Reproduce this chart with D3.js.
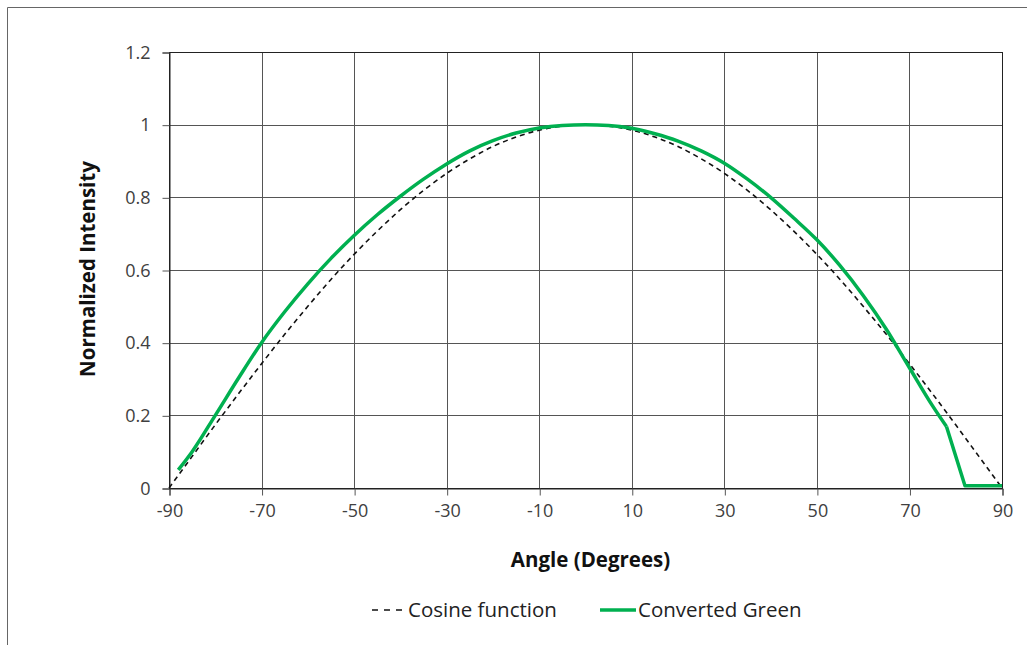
<!DOCTYPE html>
<html>
<head>
<meta charset="utf-8">
<script src="https://cdn.jsdelivr.net/npm/d3@7"></script>
<style>
  body { margin: 0; background: #fff; }
  text { font-family: "Open Sans", "Noto Sans", sans-serif; }
</style>
</head>
<body>
<div id="chart"></div>
<script>
// angles in degrees and normalized intensity
var cosAngles = [-90, -85, -80, -75, -70, -65, -60, -55, -50, -45, -40, -35, -30, -25, -20, -15, -10, -5,
    0, 5, 10, 15, 20, 25, 30, 35, 40, 45, 50, 55, 60, 65, 70, 75, 80, 85, 90];
var cosValues = [0, 0.087, 0.174, 0.259, 0.342, 0.423, 0.5, 0.574, 0.643, 0.707, 0.766, 0.819, 0.866, 0.906, 0.94, 0.966, 0.985, 0.996,
    1, 0.996, 0.985, 0.966, 0.94, 0.906, 0.866, 0.819, 0.766, 0.707, 0.643, 0.574, 0.5, 0.423, 0.342, 0.259, 0.174, 0.087, 0];

var greenAngles = [-88, -85, -80, -75, -70, -65, -60, -55, -50, -45, -40, -35, -30, -25, -20, -15, -10, -5,
    0, 5, 10, 15, 20, 25, 30, 35, 40, 45, 50, 55, 60, 65, 70, 75, 78, 82, 90];
var greenValues = [0.05, 0.10, 0.20, 0.302, 0.40, 0.485, 0.562, 0.632, 0.695, 0.752, 0.803, 0.85, 0.892, 0.928, 0.956, 0.977, 0.991, 0.998,
    1, 0.998, 0.99, 0.975, 0.955, 0.928, 0.894, 0.85, 0.80, 0.743, 0.683, 0.612, 0.53, 0.437, 0.331, 0.226, 0.169, 0.006, 0.006];

var xTicks = [-90, -70, -50, -30, -10, 10, 30, 50, 70, 90];
var yTicks = [0, 0.2, 0.4, 0.6, 0.8, 1, 1.2];
var yTickLabels = ['0', '0.2', '0.4', '0.6', '0.8', '1', '1.2'];

var W = 1027, H = 645;
var margin = { top: 52, right: 25, bottom: 157, left: 169 };
var width = W - margin.left - margin.right;
var height = H - margin.top - margin.bottom;

var root = d3.select('#chart')
    .append('svg')
    .attr('width', W)
    .attr('height', H);

// outer frame (only left and top edges are in view)
root.append('path')
    .attr('d', 'M7.5,' + H + 'V7.5H' + W)
    .attr('fill', 'none')
    .attr('stroke', '#666')
    .attr('stroke-width', 1);

var svg = root.append('g')
    .attr('transform', `translate(${margin.left},${margin.top})`);

var xScale = d3.scaleLinear().domain([-90, 90]).range([0, width]);
var yScale = d3.scaleLinear().domain([0, 1.2]).range([height, 0]);

// grid
svg.append('g')
    .selectAll('line')
    .data(xTicks)
    .join('line')
    .attr('x1', d => Math.round(xScale(d)) + 0.5)
    .attr('x2', d => Math.round(xScale(d)) + 0.5)
    .attr('y1', 0)
    .attr('y2', height)
    .attr('stroke', '#555');
svg.append('g')
    .selectAll('line')
    .data(yTicks)
    .join('line')
    .attr('x1', 0)
    .attr('x2', width)
    .attr('y1', d => Math.round(yScale(d)) + 0.5)
    .attr('y2', d => Math.round(yScale(d)) + 0.5)
    .attr('stroke', '#555');

// frame
svg.append('rect')
    .attr('x', 0.5)
    .attr('y', 0.5)
    .attr('width', width)
    .attr('height', height)
    .attr('fill', 'none')
    .attr('stroke', '#222');

// Add X axis
var xAxis = svg.append('g')
    .attr('transform', `translate(0.5, ${height + 0.5})`)
    .call(d3.axisBottom(xScale).tickValues(xTicks).tickFormat(d => String(d))
        .tickSizeOuter(0).tickSize(7).tickPadding(9));
xAxis.select('.domain').attr('stroke', '#222');
xAxis.selectAll('.tick line').attr('stroke', '#555');
xAxis.selectAll('text')
    .attr('font-size', '18px')
    .attr('fill', '#404040');

// Add Y axis
var yAxis = svg.append('g')
    .attr('transform', 'translate(0.5, 0.5)')
    .call(d3.axisLeft(yScale).tickValues(yTicks).tickFormat((d, i) => yTickLabels[i])
        .tickSizeOuter(0).tickSize(7).tickPadding(12));
yAxis.select('.domain').attr('stroke', '#222');
yAxis.selectAll('.tick line').attr('stroke', '#555');
yAxis.selectAll('text')
    .attr('font-size', '18px')
    .attr('fill', '#404040');

// axis titles
svg.append('text')
    .attr('x', width / 2 + 5)
    .attr('y', height + 79)
    .attr('text-anchor', 'middle')
    .attr('font-size', '20.5px')
    .attr('font-weight', 'bold')
    .attr('fill', '#111')
    .text('Angle (Degrees)');
svg.append('text')
    .attr('transform', `translate(${-74}, ${height / 2 - 1}) rotate(-90)`)
    .attr('text-anchor', 'middle')
    .attr('font-size', '20.5px')
    .attr('font-weight', 'bold')
    .attr('fill', '#111')
    .text('Normalized Intensity');

// lines
var cosData = cosAngles.map((a, i) => ({ x: a, y: cosValues[i] }));
var greenData = greenAngles.map((a, i) => ({ x: a, y: greenValues[i] }));

svg.append('path')
    .datum(cosData)
    .attr('fill', 'none')
    .attr('stroke', '#111')
    .attr('stroke-width', 1.6)
    .attr('stroke-dasharray', '5,4')
    .attr('d', d3.line()
        .curve(d3.curveMonotoneX)
        .x(d => xScale(d.x))
        .y(d => yScale(d.y)));

// smooth part of the measured curve, then the straight drop to zero
var greenLine = svg.append('g')
    .attr('fill', 'none')
    .attr('stroke', '#00b050')
    .attr('stroke-width', 3.5)
    .attr('stroke-linejoin', 'round');
greenLine.append('path')
    .datum(greenData.filter(d => d.x <= 78))
    .attr('d', d3.line()
        .curve(d3.curveMonotoneX)
        .x(d => xScale(d.x))
        .y(d => yScale(d.y)));
greenLine.append('path')
    .datum(greenData.filter(d => d.x >= 78))
    .attr('d', d3.line()
        .x(d => xScale(d.x))
        .y(d => yScale(d.y)));

// legend
var legend = root.append('g').attr('transform', 'translate(0, 610)');
legend.append('line')
    .attr('x1', 372).attr('x2', 404)
    .attr('y1', 0).attr('y2', 0)
    .attr('stroke', '#111')
    .attr('stroke-width', 1.6)
    .attr('stroke-dasharray', '6,6');
legend.append('text')
    .attr('x', 408).attr('y', 0)
    .attr('dy', '0.35em')
    .attr('font-size', '20.5px')
    .attr('fill', '#222')
    .text('Cosine function');
legend.append('line')
    .attr('x1', 600).attr('x2', 636)
    .attr('y1', 0).attr('y2', 0)
    .attr('stroke', '#00b050')
    .attr('stroke-width', 3.5);
legend.append('text')
    .attr('x', 638).attr('y', 0)
    .attr('dy', '0.35em')
    .attr('font-size', '20.5px')
    .attr('fill', '#222')
    .text('Converted Green');
</script>
</body>
</html>
